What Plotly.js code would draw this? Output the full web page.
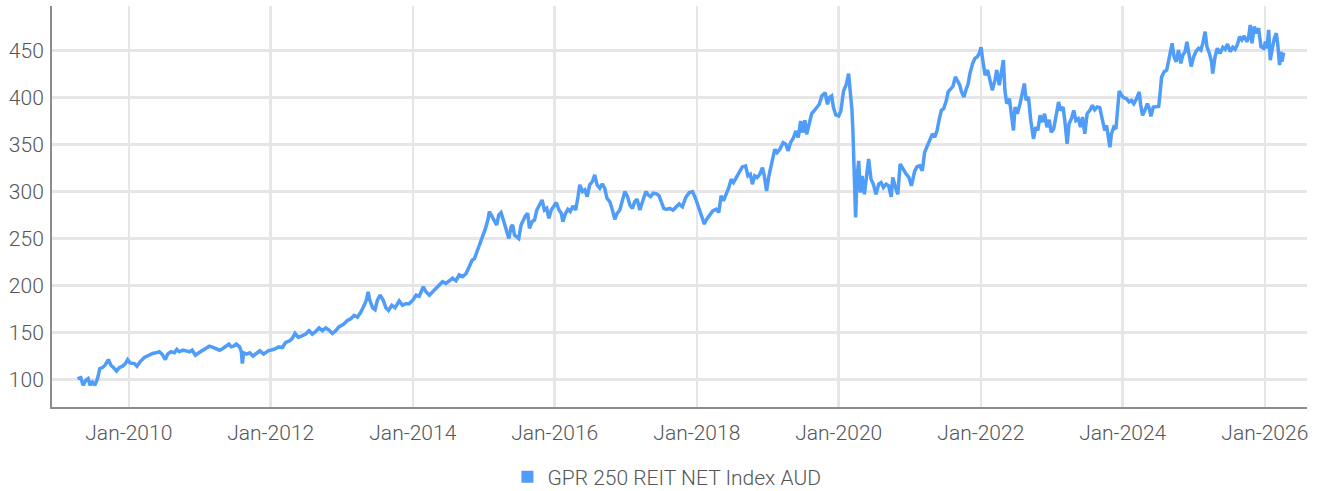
<!DOCTYPE html>
<html>
<head>
<meta charset="utf-8">
<script src="https://cdn.plot.ly/plotly-3.0.1.min.js"></script>
<style>html,body{margin:0;padding:0;background:#fff;}#chart{width:1321px;height:491px;}</style>
</head>
<body>
<div id="chart"></div>
<script>
const seriesName = 'GPR 250 REIT NET Index AUD';

const dates = [
'2009-04-12','2009-04-29','2009-05-11','2009-05-25','2009-06-06','2009-06-16','2009-06-28','2009-07-10','2009-07-24','2009-08-05',
'2009-08-19','2009-09-01','2009-09-18','2009-10-01','2009-10-14','2009-10-30','2009-11-13','2009-11-30','2009-12-14','2009-12-26',
'2010-01-07','2010-01-30','2010-02-12','2010-02-28','2010-03-22','2010-04-14','2010-05-04','2010-05-21','2010-06-07','2010-06-21',
'2010-07-08','2010-07-20','2010-08-06','2010-08-24','2010-09-05','2010-09-18','2010-10-06','2010-10-23','2010-11-09','2010-11-23',
'2010-12-10','2010-12-27','2011-01-17','2011-02-03','2011-02-20','2011-03-10','2011-03-27','2011-04-13','2011-04-30','2011-05-17',
'2011-05-31','2011-06-12','2011-06-24','2011-07-08','2011-07-25','2011-08-03','2011-08-08','2011-08-15','2011-08-29','2011-09-15',
'2011-10-02','2011-10-19','2011-11-06','2011-11-26','2011-12-19',
'2012-01-18','2012-02-12','2012-03-01','2012-03-18','2012-04-08','2012-04-22','2012-05-05','2012-05-22','2012-06-12','2012-06-29',
'2012-07-16','2012-08-02','2012-08-20','2012-09-06','2012-09-23','2012-10-10','2012-10-27','2012-11-13','2012-12-01','2012-12-18',
'2013-01-08','2013-01-30','2013-02-16','2013-03-05','2013-03-22','2013-04-09','2013-04-26','2013-05-08','2013-05-16','2013-05-25',
'2013-06-08','2013-06-21','2013-07-03','2013-07-17','2013-08-02','2013-08-15','2013-08-29','2013-09-15','2013-10-02','2013-10-23',
'2013-11-09','2013-11-26','2013-12-14','2014-01-01','2014-01-18','2014-02-03','2014-02-24','2014-03-10','2014-03-27','2014-04-13',
'2014-04-30','2014-05-17','2014-06-03','2014-06-20','2014-07-08','2014-07-25','2014-08-11','2014-08-28','2014-09-14','2014-10-01',
'2014-10-19',
'2014-11-02','2014-11-14','2014-12-01','2014-12-18','2014-12-30','2015-01-10','2015-01-22','2015-01-30','2015-02-13','2015-02-25',
'2015-03-09','2015-03-19','2015-03-31','2015-04-12','2015-04-26','2015-05-10','2015-05-22','2015-05-30','2015-06-08','2015-06-20',
'2015-06-30','2015-07-12','2015-07-24','2015-08-03','2015-08-15','2015-08-24','2015-09-07','2015-09-19','2015-10-01','2015-10-14',
'2015-10-28','2015-11-09','2015-11-21','2015-12-02','2015-12-14','2015-12-26','2016-01-09','2016-01-23','2016-02-04','2016-02-12',
'2016-02-26','2016-03-09','2016-03-21','2016-04-04','2016-04-18','2016-04-30','2016-05-09','2016-05-23','2016-06-04','2016-06-16',
'2016-06-29','2016-07-13','2016-07-25','2016-08-06','2016-08-20','2016-09-02','2016-09-14','2016-09-26','2016-10-10','2016-10-24',
'2016-11-05','2016-11-17','2016-12-01','2016-12-15','2016-12-27','2017-01-08','2017-01-22','2017-02-04','2017-02-16','2017-02-28',
'2017-03-14','2017-03-28','2017-04-14','2017-04-26','2017-05-08','2017-05-22','2017-06-08','2017-06-21','2017-07-03','2017-07-15',
'2017-07-29','2017-08-15','2017-09-01','2017-09-19','2017-10-02',
'2017-10-19','2017-11-05','2017-11-23','2017-12-10','2017-12-24','2018-01-06','2018-01-18','2018-02-01','2018-02-09','2018-02-21',
'2018-03-07','2018-03-24','2018-04-10','2018-04-24','2018-05-06','2018-05-18','2018-06-01','2018-06-15','2018-06-27','2018-07-09',
'2018-07-23','2018-08-09','2018-08-23','2018-09-09','2018-09-21','2018-10-03','2018-10-14','2018-10-26','2018-11-07','2018-11-21',
'2018-12-05','2018-12-14','2018-12-26','2019-01-07','2019-01-20','2019-02-06','2019-02-18','2019-03-04','2019-03-21','2019-04-04',
'2019-04-16','2019-04-28','2019-05-12','2019-05-26','2019-06-07','2019-06-19','2019-06-29','2019-07-11','2019-07-20','2019-08-03',
'2019-08-15','2019-08-27','2019-09-10','2019-09-23','2019-10-06','2019-10-23','2019-11-04','2019-11-14','2019-11-26','2019-12-05',
'2019-12-17','2020-01-01','2020-01-12','2020-01-26','2020-02-09','2020-02-21','2020-02-29','2020-03-09','2020-03-14','2020-03-18',
'2020-03-23','2020-03-28','2020-04-04','2020-04-13','2020-04-21','2020-04-30',
'2020-05-12','2020-05-24','2020-06-03','2020-06-15','2020-06-27','2020-07-11','2020-07-25','2020-08-06','2020-08-18','2020-09-01',
'2020-09-14','2020-09-27','2020-10-05','2020-10-19','2020-10-31','2020-11-12','2020-11-26','2020-12-13','2020-12-27','2021-01-09',
'2021-01-26','2021-02-07','2021-02-21','2021-03-06','2021-03-18','2021-03-30','2021-04-13','2021-04-27','2021-05-09','2021-05-21',
'2021-05-31','2021-06-12','2021-06-24','2021-07-08','2021-07-17','2021-07-29','2021-08-11','2021-08-23','2021-09-03','2021-09-15',
'2021-09-24','2021-10-06','2021-10-16','2021-10-28','2021-11-06','2021-11-20','2021-12-02','2021-12-14','2021-12-24','2022-01-02',
'2022-01-11','2022-01-23','2022-02-05','2022-02-17','2022-03-01','2022-03-15','2022-03-24','2022-04-06','2022-04-18','2022-04-27',
'2022-05-05','2022-05-14','2022-05-28','2022-06-09','2022-06-18','2022-06-26','2022-07-08','2022-07-22','2022-08-05','2022-08-13',
'2022-08-22','2022-09-03','2022-09-15','2022-09-29','2022-10-11','2022-10-21','2022-11-02','2022-11-14','2022-11-25','2022-12-07',
'2022-12-19','2022-12-29','2023-01-11','2023-01-23','2023-02-05',
'2023-02-14','2023-02-28','2023-03-09','2023-03-21','2023-03-31','2023-04-12','2023-04-24','2023-05-05','2023-05-17','2023-05-29',
'2023-06-08','2023-06-20','2023-07-02','2023-07-16','2023-07-29','2023-08-10','2023-08-23','2023-09-05','2023-09-19','2023-10-01',
'2023-10-10','2023-10-18','2023-10-27','2023-11-04','2023-11-16','2023-11-27','2023-12-05','2023-12-14','2023-12-26','2024-01-07',
'2024-01-21','2024-02-03','2024-02-15','2024-02-27','2024-03-12','2024-03-26','2024-04-02','2024-04-12','2024-04-24','2024-05-07',
'2024-05-17','2024-05-25','2024-06-06','2024-06-20','2024-07-04','2024-07-11','2024-07-19','2024-08-01','2024-08-14','2024-08-23',
'2024-09-04','2024-09-11','2024-09-21','2024-10-02','2024-10-14','2024-10-26','2024-11-05','2024-11-17','2024-11-26','2024-12-06',
'2024-12-18','2024-12-31','2025-01-11','2025-01-25','2025-02-06','2025-02-16','2025-02-28','2025-03-09','2025-03-22','2025-04-02',
'2025-04-08','2025-04-20','2025-05-02','2025-05-16','2025-05-30','2025-06-11','2025-06-23','2025-07-07','2025-07-20','2025-08-01',
'2025-08-14','2025-08-24','2025-09-05','2025-09-17','2025-10-01','2025-10-09','2025-10-18','2025-10-27','2025-11-08','2025-11-18',
'2025-11-30','2025-12-12','2025-12-26','2026-01-04','2026-01-12','2026-01-21','2026-01-29','2026-02-07','2026-02-19','2026-03-01',
'2026-03-08','2026-03-18','2026-03-25','2026-03-30','2026-04-08'
];

const values = [
100.7,101.8,93.6,99.0,100.7,93.6,97.0,93.6,100.7,111.4,
112.5,115.0,121.0,115.0,112.5,108.9,112.5,114.0,116.8,121.0,
117.5,116.8,114.0,118.6,123.2,125.7,127.5,128.2,129.3,126.8,
121.0,126.8,129.3,128.2,131.8,129.3,131.0,130.3,129.3,131.0,
125.7,128.2,131.0,132.8,135.3,133.9,132.8,131.0,132.8,135.3,
137.5,134.6,135.3,137.5,134.6,129.3,116.8,128.2,126.8,128.2,
124.6,127.5,130.3,126.8,130.3,
132.0,134.5,133.8,139.2,141.0,143.9,148.9,144.6,146.4,148.2,
151.8,148.2,151.1,154.7,151.8,154.7,152.5,148.9,151.8,156.1,
158.3,162.6,164.4,168.0,166.2,171.6,178.8,184.9,193.2,184.2,
176.3,174.1,184.2,189.6,184.2,176.3,173.4,178.8,176.3,183.5,
178.8,180.6,180.6,184.2,189.6,188.5,198.6,193.2,189.6,193.2,
196.8,200.4,204.0,202.2,205.1,207.6,205.1,211.2,209.4,212.3,
220.2,
226.8,228.6,237.5,248.2,253.6,260.7,269.6,278.6,273.2,267.9,
264.3,275.0,277.5,269.6,258.9,250.0,262.5,264.3,253.6,251.8,
250.0,264.3,270.3,273.9,276.8,260.7,267.9,269.6,280.3,284.6,
291.0,280.3,282.1,271.4,280.3,283.9,288.2,280.3,276.8,267.9,
276.8,281.0,278.6,284.6,280.3,294.6,307.1,300.0,301.8,294.6,
307.1,310.7,317.8,307.1,303.6,308.2,303.6,292.8,289.3,280.3,
270.3,276.8,280.3,291.0,300.0,295.4,285.7,282.1,289.3,291.8,
280.3,289.3,300.0,296.4,294.6,298.2,297.5,295.4,287.5,282.1,
281.0,282.1,280.3,283.9,286.8,
283.7,293.6,298.9,300.0,293.6,286.5,277.7,272.3,265.3,270.6,
274.1,279.4,281.2,277.7,295.4,290.1,297.2,304.3,313.1,309.6,
314.9,320.2,326.2,327.3,316.7,318.4,307.8,316.7,314.9,318.4,
325.5,316.7,300.7,316.7,330.8,345.0,341.4,345.0,352.1,350.4,
343.3,352.1,356.7,364.5,357.4,375.2,362.8,375.9,361.0,373.4,
383.0,385.8,389.4,392.9,401.8,405.3,392.9,400.0,401.8,389.4,
381.6,380.5,385.8,407.1,414.2,425.5,407.1,387.6,364.5,332.6,
304.3,272.3,314.9,332.6,298.9,316.7,
297.1,318.6,334.6,313.2,307.9,297.1,307.9,309.6,304.3,307.9,
306.1,294.3,315.0,304.3,297.1,329.3,323.9,318.6,315.0,306.1,
322.1,326.4,327.5,322.1,341.8,347.1,354.3,361.4,357.9,365.0,
375.7,386.4,388.2,397.1,406.1,409.6,412.1,422.1,416.8,413.2,
406.1,400.7,407.9,415.0,425.7,436.4,441.8,443.6,447.1,453.6,
440.0,423.9,429.3,416.8,407.9,418.6,429.3,413.2,429.3,440.0,
407.9,393.6,398.9,382.9,365.0,390.0,382.9,393.6,406.1,415.0,
397.1,400.7,375.7,356.1,368.6,365.0,381.1,373.9,382.9,368.6,
376.4,363.2,366.8,379.3,395.4,
386.4,390.0,375.7,350.7,372.1,377.5,386.4,375.7,377.5,368.6,
379.3,361.4,382.9,386.4,391.8,387.1,390.0,389.3,375.7,365.0,
370.4,361.4,347.1,361.4,368.6,366.8,384.6,407.1,402.5,400.0,
398.9,395.4,397.1,393.6,398.9,406.1,392.9,381.1,386.4,393.6,
388.2,380.0,390.0,390.0,390.7,404.3,422.1,427.5,429.3,438.2,
450.7,457.8,443.6,438.2,450.7,436.4,445.4,448.9,459.6,447.1,
433.2,443.6,448.9,452.5,450.7,457.8,470.3,454.3,447.1,438.2,
425.7,443.6,452.5,447.1,453.6,451.4,457.1,448.9,453.6,451.4,
457.1,465.0,461.4,465.7,459.6,463.2,477.5,457.8,475.7,468.6,
473.9,454.3,452.5,459.6,452.5,472.1,440.0,450.7,463.2,468.6,
457.8,434.6,448.9,438.2,447.9
];

const xTickVals = ['2010-01-01','2012-01-01','2014-01-01','2016-01-01','2018-01-01','2020-01-01','2022-01-01','2024-01-01','2026-01-01'];
const xTickText = ['Jan-2010','Jan-2012','Jan-2014','Jan-2016','Jan-2018','Jan-2020','Jan-2022','Jan-2024','Jan-2026'];
const yTickVals = [100,150,200,250,300,350,400,450];

const lineColor = '#4f9cf9';
const fontFam = 'Roboto, "Liberation Sans Narrow", sans-serif';
const txtFont = {family: fontFam, size: 21, color: '#555555', weight: 300};

const traces = [
  {x: dates, y: values, type: 'scatter', mode: 'lines', name: seriesName, showlegend: false,
   line: {color: lineColor, width: 3.5}},
  {x: [null], y: [null], type: 'scatter', mode: 'markers', name: seriesName, showlegend: true,
   marker: {symbol: 'square', size: 12, color: lineColor}}
];

const layout = {
  width: 1321, height: 491,
  margin: {l: 52, r: 14, t: 6, b: 84, autoexpand: false},
  paper_bgcolor: '#ffffff', plot_bgcolor: '#ffffff',
  font: txtFont,
  xaxis: {
    type: 'date', range: ['2008-12-02', '2026-08-06'],
    tickmode: 'array', tickvals: xTickVals, ticktext: xTickText,
    showgrid: true, gridcolor: '#e6e6e6', gridwidth: 2.5,
    showline: true, linecolor: '#8c8c8c', linewidth: 2,
    zeroline: false, ticks: '', ticklabelstandoff: 6,
    automargin: false,
    tickfont: txtFont
  },
  yaxis: {
    range: [70.5, 497.6],
    tickmode: 'array', tickvals: yTickVals,
    showgrid: true, gridcolor: '#e6e6e6', gridwidth: 2.5,
    showline: true, linecolor: '#8c8c8c', linewidth: 2,
    zeroline: false, ticks: '', ticklabelstandoff: 2,
    automargin: false,
    tickfont: txtFont
  },
  showlegend: true,
  legend: {orientation: 'h', x: 0.49, xanchor: 'center', y: -0.175, yanchor: 'middle',
    font: txtFont, itemwidth: 30},
  hovermode: false
};

Plotly.newPlot('chart', traces, layout, {displayModeBar: false, staticPlot: true});
</script>
</body>
</html>
